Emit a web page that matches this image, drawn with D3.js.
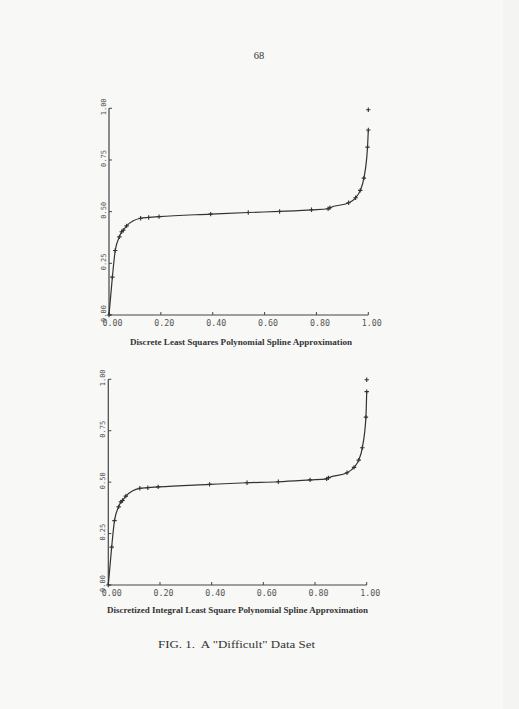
<!DOCTYPE html>
<html>
<head>
<meta charset="utf-8">
<script src="https://cdn.jsdelivr.net/npm/d3@7/dist/d3.min.js"></script>
<style>
  body { margin: 0; background: #f8f8f7; }
  svg { display: block; }
  .tick-x { font-family: "DejaVu Sans Mono", monospace; font-size: 8.3px; fill: #555; }
  .tick-y { font-family: "DejaVu Sans Mono", monospace; font-size: 7px; fill: #555; }
  .sub { font-family: "Liberation Serif", serif; font-weight: bold; font-size: 8px; fill: #333; }
  .cap { font-family: "Liberation Serif", serif; font-size: 10.5px; fill: #333; white-space: pre; }
</style>
</head>
<body>
<script>
// tick values shared by both panels
const xTicks = [0, 0.2, 0.4, 0.6, 0.8, 1.0];
const yTicks = [0, 0.25, 0.5, 0.75, 1.0];

// the "difficult" data set (last point is the outlier at the top)
const xData = [0, 0.013, 0.024, 0.040, 0.049, 0.055, 0.068, 0.122, 0.153, 0.193,
               0.392, 0.537, 0.658, 0.781, 0.845, 0.852, 0.924, 0.951, 0.969, 0.983,
               0.997, 1.0, 1.0];
const yData1 = [0, 0.183, 0.312, 0.378, 0.403, 0.410, 0.431, 0.468, 0.472, 0.476,
                0.488, 0.496, 0.501, 0.509, 0.514, 0.519, 0.543, 0.567, 0.603, 0.662,
                0.812, 0.895, 0.993];
const yData2 = [0, 0.184, 0.313, 0.380, 0.404, 0.411, 0.432, 0.470, 0.473, 0.477,
                0.489, 0.497, 0.502, 0.511, 0.516, 0.521, 0.546, 0.572, 0.607, 0.667,
                0.816, 0.940, 0.998];

const subtitles = [
  "Discrete Least Squares Polynomial Spline Approximation",
  "Discretized Integral Least Square Polynomial Spline Approximation"
];
const caption = "FIG. 1.  A \"Difficult\" Data Set";
const pageNumber = "68";

const W = 519, H = 709;
const svg = d3.select("body").append("svg").attr("width", W).attr("height", H);

svg.append("rect").attr("width", W).attr("height", H).attr("fill", "#f8f8f7");
// faint scan edge on the right
svg.append("rect").attr("x", 503).attr("y", 0).attr("width", 16).attr("height", H).attr("fill", "#f4f4f3");

svg.append("text").attr("class", "cap").attr("x", 259).attr("y", 59)
  .attr("text-anchor", "middle").attr("fill", "#555").text(pageNumber);

// panel layout: pixel box of the axes in each panel
const panels = [
  { x0: 109, x1: 368.3, y0: 315, y1: 108.3, ys: yData1, sub: subtitles[0], subY: 345, subX0: 130, subW: 222 },
  { x0: 108.3, x1: 366.7, y0: 585, y1: 379.3, ys: yData2, sub: subtitles[1], subY: 613, subX0: 107, subW: 261 }
];

const fmt = d3.format(".2f");

panels.forEach(p => {
  const x = d3.scaleLinear().domain([0, 1]).range([p.x0, p.x1]);
  const y = d3.scaleLinear().domain([0, 1]).range([p.y0, p.y1]);
  const g = svg.append("g");

  // axes lines
  g.append("line").attr("x1", x(0)).attr("x2", x(1)).attr("y1", y(0)).attr("y2", y(0))
    .attr("stroke", "#444").attr("stroke-width", 1.2);
  g.append("line").attr("x1", x(0)).attr("x2", x(0)).attr("y1", y(0)).attr("y2", y(1))
    .attr("stroke", "#444").attr("stroke-width", 1.2);

  // x ticks (pointing inward) and labels with the decimal point on the tick
  xTicks.forEach(t => {
    g.append("line").attr("x1", x(t)).attr("x2", x(t)).attr("y1", y(0)).attr("y2", y(0) - 3)
      .attr("stroke", "#444").attr("stroke-width", 1);
    g.append("text").attr("class", "tick-x").attr("x", x(t) - 6.5).attr("y", y(0) + 11)
      .text(fmt(t));
  });

  // y ticks and rotated labels
  yTicks.forEach(t => {
    g.append("line").attr("x1", x(0)).attr("x2", x(0) + 3).attr("y1", y(t)).attr("y2", y(t))
      .attr("stroke", "#444").attr("stroke-width", 1);
    g.append("text").attr("class", "tick-y")
      .attr("transform", `translate(${x(0) - 3.5},${y(t) + 7}) rotate(-90)`)
      .text(fmt(t));
  });

  // fitted curve through the data (outlier excluded)
  const pts = xData.slice(0, -1).map((d, i) => [d, p.ys[i]]);
  const line = d3.line().x(d => x(d[0])).y(d => y(d[1])).curve(d3.curveMonotoneX);
  g.append("path").attr("d", line(pts)).attr("fill", "none")
    .attr("stroke", "#333").attr("stroke-width", 1.2);

  // plus markers
  const s = 2.2;
  xData.forEach((d, i) => {
    const cx = x(d), cy = y(p.ys[i]);
    g.append("path")
      .attr("d", `M${cx - s},${cy}H${cx + s}M${cx},${cy - s}V${cy + s}`)
      .attr("stroke", "#333").attr("stroke-width", 1.1);
  });

  g.append("text").attr("class", "sub").attr("x", p.subX0).attr("y", p.subY)
    .attr("textLength", p.subW).attr("lengthAdjust", "spacingAndGlyphs").text(p.sub);
});

svg.append("text").attr("class", "cap").attr("x", 158).attr("y", 648)
  .attr("textLength", 157).attr("lengthAdjust", "spacingAndGlyphs").text(caption);
</script>
</body>
</html>
